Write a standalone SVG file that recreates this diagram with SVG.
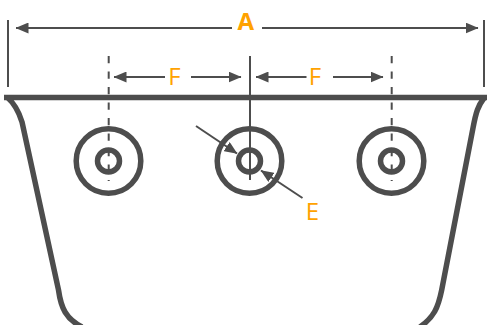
<svg xmlns="http://www.w3.org/2000/svg" width="487" height="325" viewBox="0 0 487 325">
<style>
.s{fill:none;stroke:#4d4d4d;stroke-width:5.500}
.outer{fill:none;stroke:#4d4d4d;stroke-width:5.500}
.inner{fill:none;stroke:#4d4d4d;stroke-width:5.500}
.d{stroke:#4d4d4d;stroke-width:2;fill:none}
.h{fill:#4d4d4d}
.t{font-family:"Open Sans","Noto Sans",sans-serif;fill:#ffa200;font-size:24px;text-anchor:middle}
</style>
<defs>
<marker id="a" viewBox="0 0 13 11" refX="12.500" refY="5.500" markerWidth="13" markerHeight="11" markerUnits="userSpaceOnUse" orient="auto"><path class="h" d="M0 0L13 5.500L0 11Z"/></marker>
</defs>
<g id="body"><path class="s" d="M4 97.500H487"/><path class="s" d="M7 97C15 104 19 112 22 122L58.500 290C61 308 66 319 82 327M484 98C478 106 476 112 473 128L441.700 290C438 308 434 317 420 327"/></g>
<g id="connectors">
<path class="d" d="M8 20V87M484 20V87"/>
<path class="d" stroke-width="2.400" d="M232 28H16" marker-end="url(#a)"/>
<path class="d" stroke-width="2.400" d="M262 28H478" marker-end="url(#a)"/>
<path class="d" d="M165 77H114" marker-end="url(#a)"/>
<path class="d" d="M191 77H241" marker-end="url(#a)"/>
<path class="d" d="M306.500 77H256" marker-end="url(#a)"/>
<path class="d" d="M333 77H383" marker-end="url(#a)"/>
<path class="d" d="M108.700 56V181M391.700 56V181" stroke-dasharray="7.300 8.200"/>
<path class="d" d="M250 56V180"/>
<path class="d" d="M196 126L237 153.500" marker-end="url(#a)"/>
<path class="d" d="M302.500 198L261 170.500" marker-end="url(#a)"/>
</g>
<g id="hole-left"><circle class="outer" cx="108.500" cy="161" r="32.300"/><circle class="inner" cx="108.500" cy="161" r="11"/></g>
<g id="hole-center"><circle class="outer" cx="249.500" cy="161" r="32.300"/><circle class="inner" cx="249.500" cy="161" r="11"/></g>
<g id="hole-right"><circle class="outer" cx="391.500" cy="161" r="32.300"/><circle class="inner" cx="391.500" cy="161" r="11"/></g>
<g id="labels">
<text class="t" x="245.800" y="30" font-weight="700">A</text>
<text class="t" x="174.500" y="85">F</text>
<text class="t" x="315" y="85">F</text>
<text class="t" x="312.500" y="220">E</text>
</g>
</svg>
